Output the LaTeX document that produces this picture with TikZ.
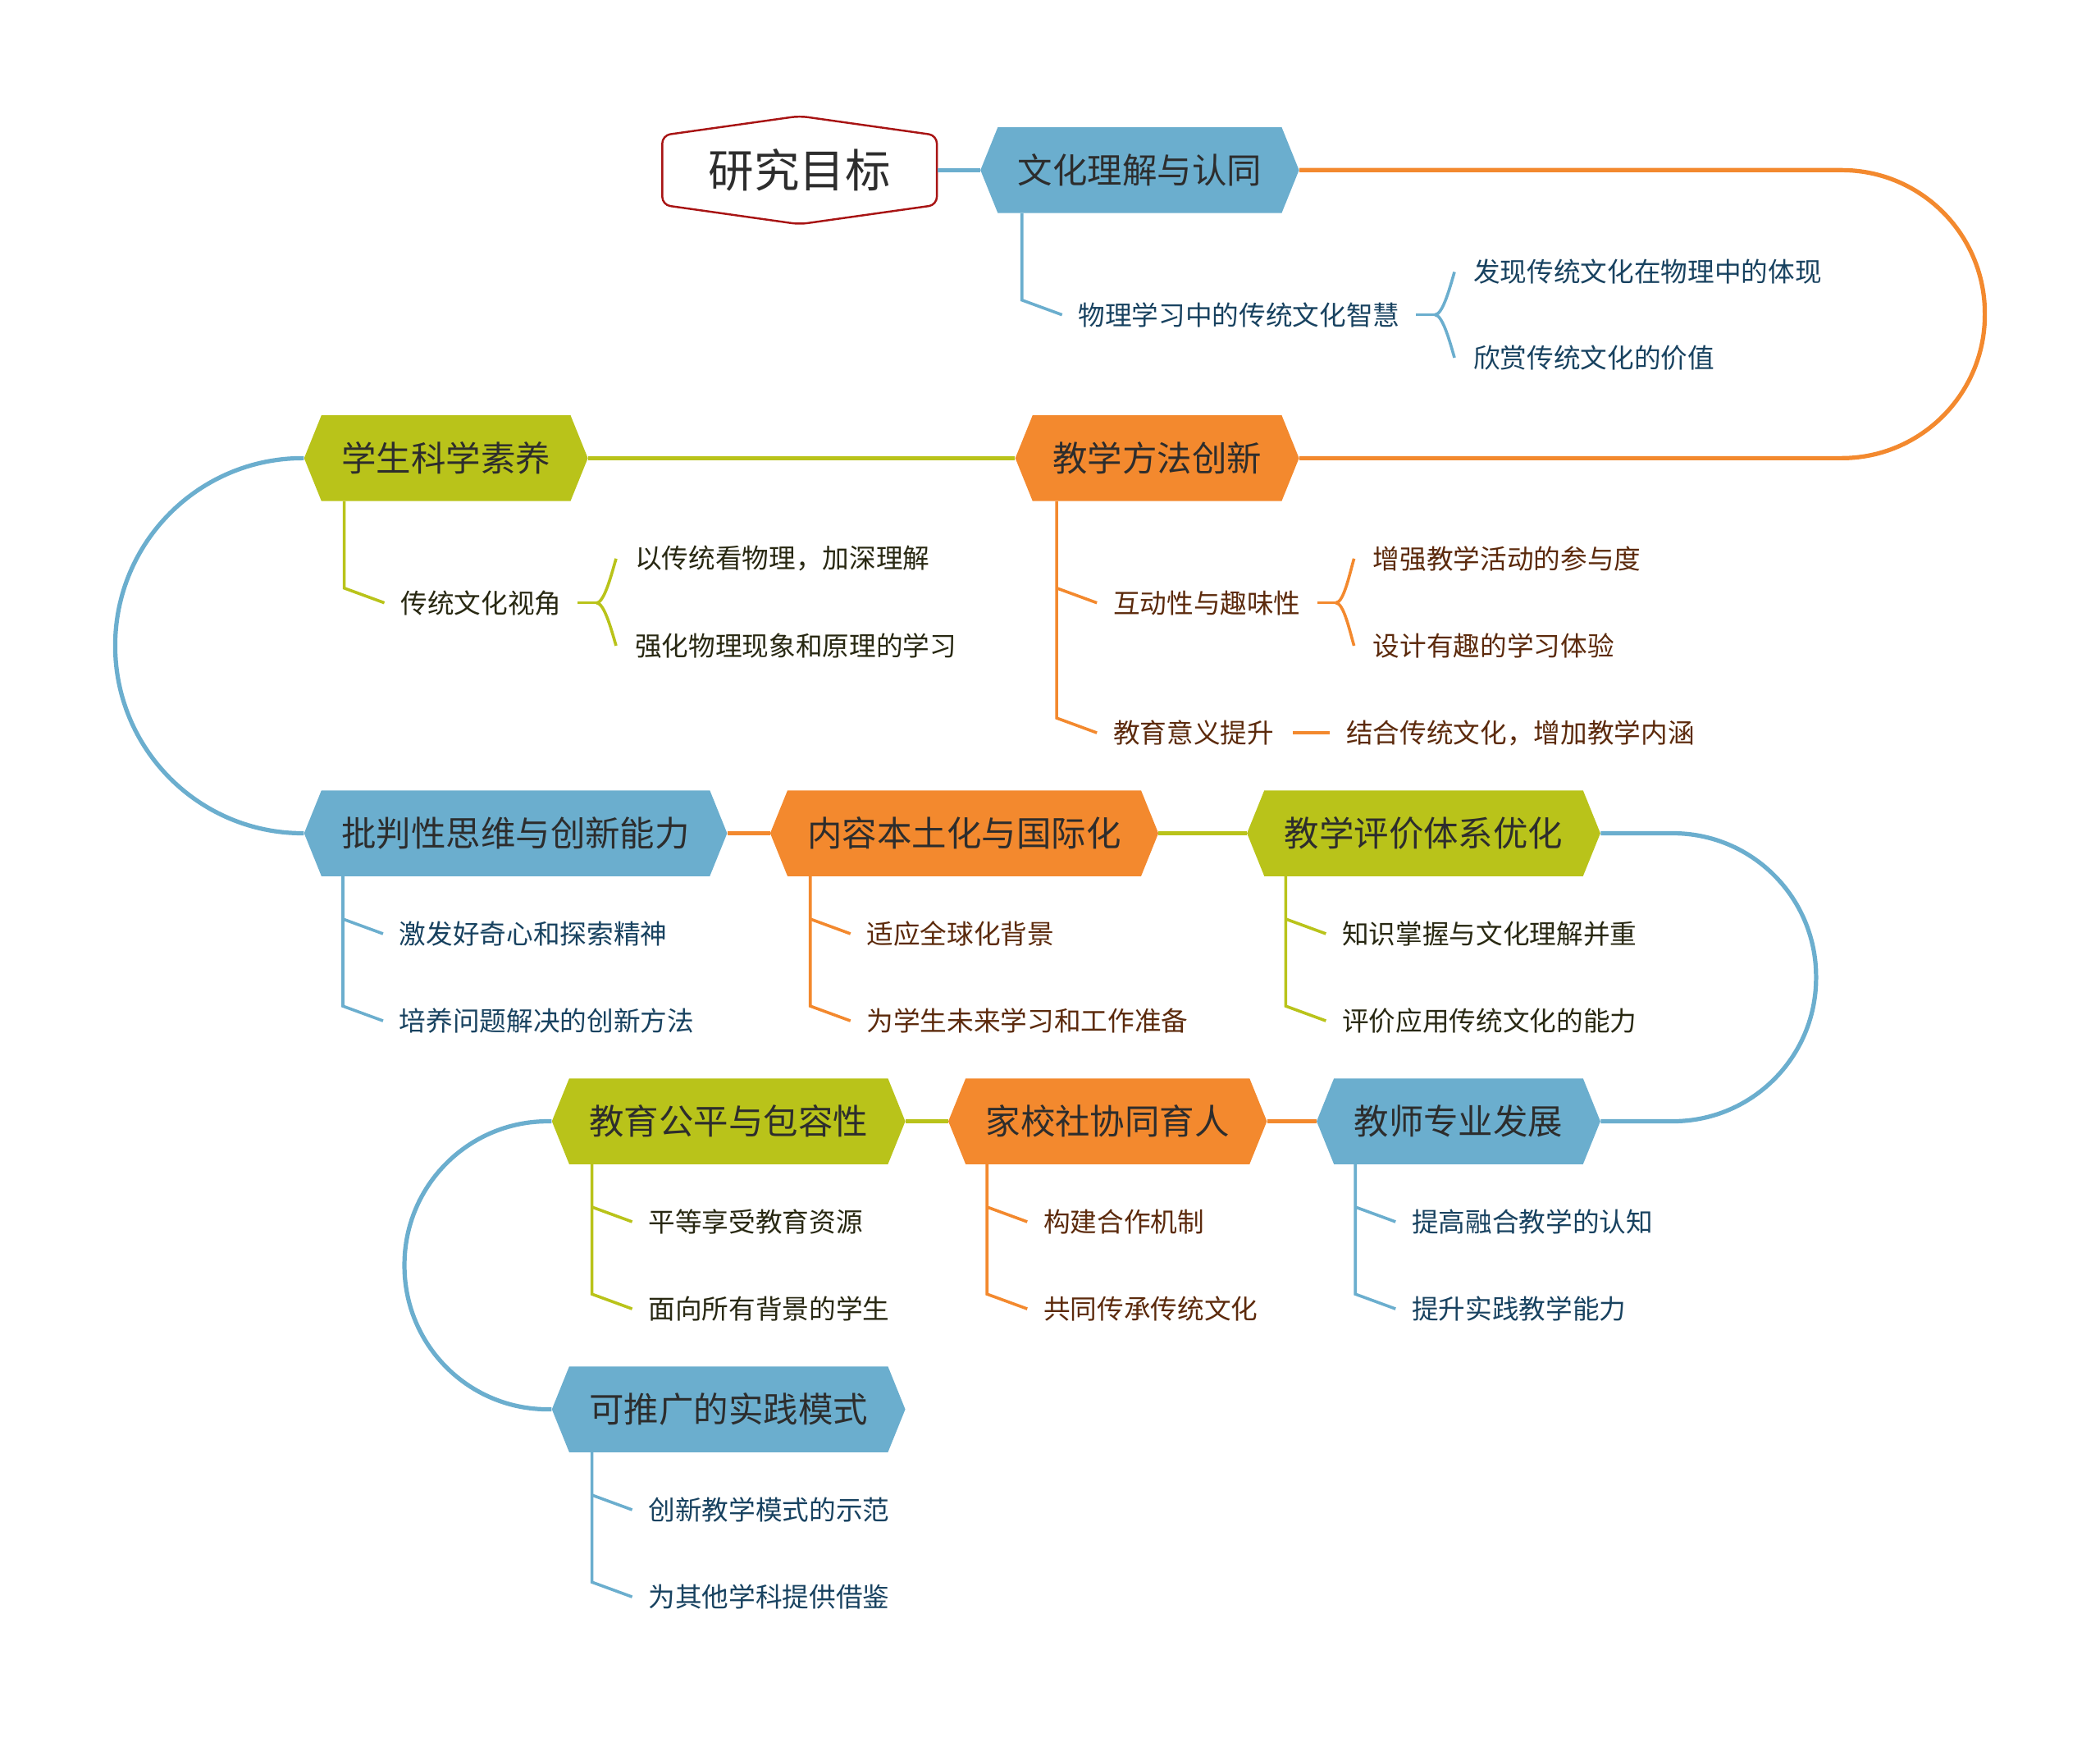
\documentclass[tikz,border=0pt]{standalone}
\usepackage{fontspec}
\newfontfamily\cjk{Noto Sans CJK SC}
\usetikzlibrary{shapes.symbols,calc}

\definecolor{cblue}{RGB}{107,174,206}
\definecolor{corange}{RGB}{243,137,46}
\definecolor{cgreen}{RGB}{185,195,26}
\definecolor{cred}{RGB}{168,20,20}
\definecolor{tblue}{RGB}{24,66,96}
\definecolor{tbrown}{RGB}{92,42,12}
\definecolor{tdark}{RGB}{40,40,18}
\definecolor{tgray}{RGB}{45,45,45}

\tikzset{
  topic/.style={signal, signal to=east and west, signal pointer angle=136,
    fill=#1, text=tgray, minimum height=64pt, inner xsep=15pt,
    font=\cjk\fontsize{26}{30}\selectfont},
  leaf/.style={anchor=west, inner sep=0pt, text=#1,
    font=\cjk\fontsize{20}{24}\selectfont},
  link/.style={draw=#1, line width=3.2pt},
  twig/.style={draw=#1, line width=2.2pt},
}

\begin{document}
\begin{tikzpicture}[x=1pt, y=-1pt]
  \useasboundingbox (0,0) rectangle (1568,1300);

  % 中心主题
  \node[signal, signal to=north and south, signal pointer angle=164,
    draw=cred, line width=1.5pt, rounded corners=6pt, fill=white,
    minimum width=205pt, minimum height=72pt, text=tgray,
    font=\cjk\fontsize{34}{40}\selectfont] (root) at (597,127) {研究目标};

  % 主干节点
  \node[topic=cblue]   (wenhua)   at (851,127)  {文化理解与认同};
  \node[topic=corange] (fangfa)   at (864,342)  {教学方法创新};
  \node[topic=cgreen]  (suyang)   at (333,342)  {学生科学素养};
  \node[topic=cblue]   (pipan)    at (385,622)  {批判性思维与创新能力};
  \node[topic=corange] (bentu)    at (720,622)  {内容本土化与国际化};
  \node[topic=cgreen]  (pingjia)  at (1063,622) {教学评价体系优化};
  \node[topic=cblue]   (jiaoshi)  at (1089,837) {教师专业发展};
  \node[topic=corange] (jiaxiao)  at (827,837)  {家校社协同育人};
  \node[topic=cgreen]  (gongping) at (544,837)  {教育公平与包容性};
  \node[topic=cblue]   (tuiguang) at (544,1052) {可推广的实践模式};

  % 主干连线（颜色随下一节点）
  \draw[link=cblue] (root.east) -- (wenhua.west);
  \draw[link=corange, rounded corners=107pt] (wenhua.east) -- (1482,127) -- (1482,342) -- (fangfa.east);
  \draw[link=cgreen] (fangfa.west) -- (suyang.east);
  \draw[link=cblue, rounded corners=140pt] (suyang.west) -- (86,342) -- (86,622) -- (pipan.west);
  \draw[link=corange] (pipan.east) -- (bentu.west);
  \draw[link=cgreen] (bentu.east) -- (pingjia.west);
  \draw[link=cblue, rounded corners=107pt] (pingjia.east) -- (1356,622) -- (1356,837) -- (jiaoshi.east);
  \draw[link=corange] (jiaoshi.west) -- (jiaxiao.east);
  \draw[link=cgreen] (jiaxiao.west) -- (gongping.east);
  \draw[link=cblue, rounded corners=107pt] (gongping.west) -- (302,837) -- (302,1052) -- (tuiguang.west);

  % 子节点
  \node[leaf=tblue] (wh1)  at (805,235)  {物理学习中的传统文化智慧};
  \node[leaf=tblue] (wh1a) at (1100,203) {发现传统文化在物理中的体现};
  \node[leaf=tblue] (wh1b) at (1100,267) {欣赏传统文化的价值};

  \node[leaf=tbrown] (ff1)  at (831,450)  {互动性与趣味性};
  \node[leaf=tbrown] (ff1a) at (1025,417) {增强教学活动的参与度};
  \node[leaf=tbrown] (ff1b) at (1025,482) {设计有趣的学习体验};
  \node[leaf=tbrown] (ff2)  at (831,547)  {教育意义提升};
  \node[leaf=tbrown] (ff2a) at (1005,547) {结合传统文化，增加教学内涵};

  \node[leaf=tdark] (sy1)  at (299,450) {传统文化视角};
  \node[leaf=tdark] (sy1a) at (474,417) {以传统看物理，加深理解};
  \node[leaf=tdark] (sy1b) at (474,482) {强化物理现象和原理的学习};

  \node[leaf=tblue]  (pp1) at (298,697)  {激发好奇心和探索精神};
  \node[leaf=tblue]  (pp2) at (298,762)  {培养问题解决的创新方法};
  \node[leaf=tbrown] (bt1) at (647,697)  {适应全球化背景};
  \node[leaf=tbrown] (bt2) at (647,762)  {为学生未来学习和工作准备};
  \node[leaf=tdark]  (pj1) at (1002,697) {知识掌握与文化理解并重};
  \node[leaf=tdark]  (pj2) at (1002,762) {评价应用传统文化的能力};

  \node[leaf=tblue]  (js1) at (1054,912) {提高融合教学的认知};
  \node[leaf=tblue]  (js2) at (1054,977) {提升实践教学能力};
  \node[leaf=tbrown] (jx1) at (779,912)  {构建合作机制};
  \node[leaf=tbrown] (jx2) at (779,977)  {共同传承传统文化};
  \node[leaf=tdark]  (gp1) at (484,912)  {平等享受教育资源};
  \node[leaf=tdark]  (gp2) at (484,977)  {面向所有背景的学生};
  \node[leaf=tblue]  (tg1) at (484,1127) {创新教学模式的示范};
  \node[leaf=tblue]  (tg2) at (484,1192) {为其他学科提供借鉴};

  % 分支线：竖线 + 斜线
  \foreach \m/\a/\b/\c in {fangfa/ff1/ff2/corange, pipan/pp1/pp2/cblue,
      bentu/bt1/bt2/corange, pingjia/pj1/pj2/cgreen, jiaoshi/js1/js2/cblue,
      jiaxiao/jx1/jx2/corange, gongping/gp1/gp2/cgreen, tuiguang/tg1/tg2/cblue} {
    \draw[twig=\c] ($(\b.west |- \m.south)+(-42,0)$) -- ($(\b.west)+(-42,-11)$) -- ($(\b.west)+(-12,0)$);
    \draw[twig=\c] ($(\a.west)+(-42,-11)$) -- ($(\a.west)+(-12,0)$);
  }
  \foreach \m/\a/\c in {wenhua/wh1/cblue, suyang/sy1/cgreen} {
    \draw[twig=\c] ($(\a.west |- \m.south)+(-42,0)$) -- ($(\a.west)+(-42,-11)$) -- ($(\a.west)+(-12,0)$);
  }

  % 括号
  \foreach \p/\u/\d/\c in {wh1/wh1a/wh1b/cblue, ff1/ff1a/ff1b/corange, sy1/sy1a/sy1b/cgreen} {
    \draw[twig=\c] ($(\p.east)+(12,0)$) -- ++(14,0) coordinate (j);
    \draw[twig=\c] (j) .. controls +(6,0) and +(-3,10) .. ($(\u.west)+(-14,0)$);
    \draw[twig=\c] (j) .. controls +(6,0) and +(-3,-10) .. ($(\d.west)+(-14,0)$);
  }
  \draw[twig=corange] ($(ff2.east)+(14,0)$) -- ($(ff2a.west)+(-12,0)$);

\end{tikzpicture}
\end{document}
